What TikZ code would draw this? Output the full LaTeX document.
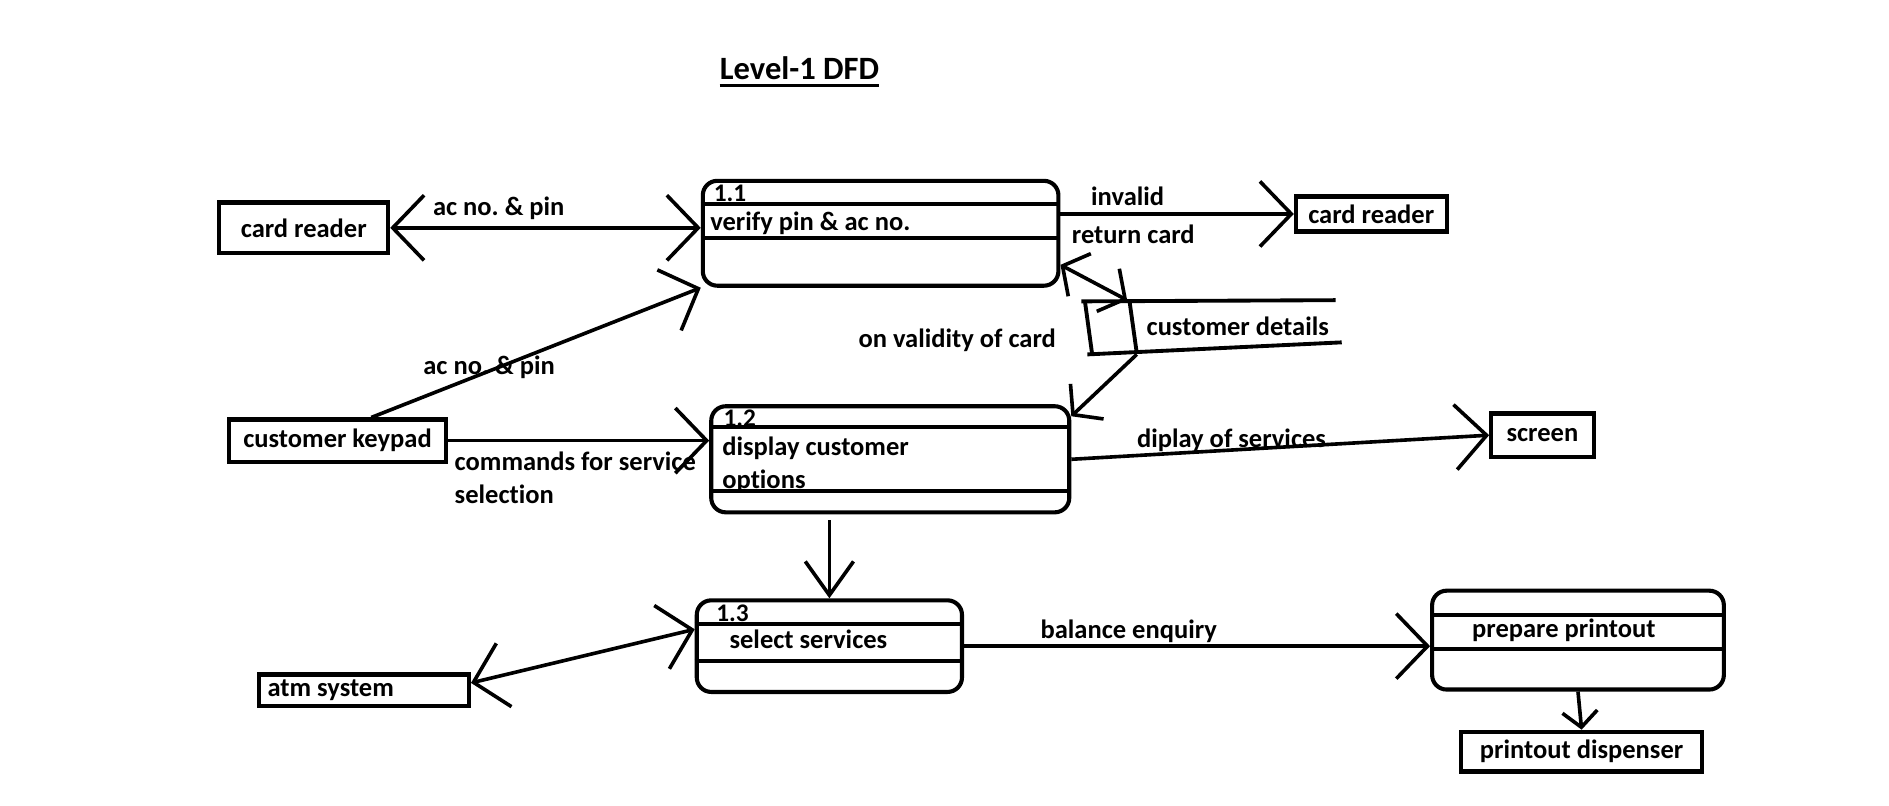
\documentclass[tikz,border=0pt]{standalone}
\usepackage{fontspec}
\setmainfont{Carlito}[Ligatures={NoCommon}]
\usetikzlibrary{arrows.meta,calc}
\begin{document}
\frenchspacing
\begin{tikzpicture}[x=1pt,y=-1pt,
  every node/.style={font=\fontsize{22}{27}\selectfont\bfseries\frenchspacing, inner sep=0pt},
  ext/.style={draw, line width=3.4pt, inner xsep=4pt},
  proc/.style={draw, rounded corners=12pt, line width=3.4pt},
  sep/.style={line width=3.2pt},
  conn/.style={line width=3pt},
  big/.style={conn, >={Straight Barb[length=26pt,width=54pt]}},
  mid/.style={conn, >={Straight Barb[length=28pt,width=40pt]}},
  corner/.style={conn, >={Straight Barb[length=16pt,width=40pt]}},
  small/.style={conn, >={Straight Barb[length=13pt,width=29pt]}},
  lbl/.style={anchor=west},
  num/.style={anchor=west, font=\fontsize{21}{25}\selectfont\bfseries}]
\fill[white] (0,0) rectangle (1567,668.6);
\useasboundingbox (0,0) rectangle (1567,668.6);

% title
\node[anchor=base west, font=\fontsize{27}{32}\selectfont\bfseries] (ttl) at (597,66) {Level-1 DFD};
\draw[line width=2.6pt] ([yshift=-5pt]ttl.base west) -- ([yshift=-5pt]ttl.base east);

% process 1.1
\node[ext, minimum width=140pt, minimum height=42pt] (cr1) at (252,189) {card reader};
\node[proc, minimum width=295pt, minimum height=87pt] (p11) at (730.5,193.5) {};
\draw[sep] ([yshift=-21pt]p11.north west) -- ([yshift=-21pt]p11.north east);
\draw[sep] ([yshift=-49pt]p11.north west) -- ([yshift=-49pt]p11.north east);
\node[num] (t11) at (592,160.5) {1.1};
\node[lbl] (v11) at (589,185) {verify pin \& ac no.};
\node[lbl] (l1) at (359,173) {ac no. \& pin};
\draw[big,<->] (cr1.east) -- (cr1.east -| p11.west);

\node[ext, minimum width=125pt, minimum height=29pt] (cr2) at (1137.5,177.5) {card reader};
\draw[big,->] (p11.east |- cr2.west) -- (cr2.west);
\node[lbl] (l2) at (905,163) {invalid};
\node[lbl] (l3) at (889,194) {return card};

% data store
\draw[sep] (897,250) -- (1108,249);
\draw[sep] (902,294) -- (1113,284);
\draw[sep] (900,250) -- (906,294);
\draw[sep] (937,250) -- (943,293);
\node[lbl] (ds) at (951,271) {customer details};
\coordinate (dsA) at (935,249);
\coordinate (dsB) at (943,294);

% process 1.2
\node[proc, minimum width=297pt, minimum height=88pt] (p12) at (738.5,381) {};
\draw[sep] ([yshift=-19pt]p12.north west) -- ([yshift=-19pt]p12.north east);
\draw[sep] ([yshift=-72pt]p12.north west) -- ([yshift=-72pt]p12.north east);
\node[num] (t12) at (600,347) {1.2};
\node[lbl] (v12a) at (599,372) {display customer};
\node[lbl] (v12b) at (599,399) {options};

\draw[corner,<->] ([yshift=19pt]p11.south east) -- (dsA);
\draw[corner,->] (dsB) -- ([yshift=-10pt]p12.north east);
\node[lbl] (l4) at (712,282) {on validity of card};

% keypad
\node[ext, minimum width=180pt, minimum height=35pt] (kp) at (280,365.5) {customer keypad};
\draw[big,->] ([xshift=28pt]kp.north) -- (p11.south west);
\node[lbl] (l5) at (351,305) {ac no. \& pin};
\draw[big,->] (kp.east) -- (kp.east -| p12.west);
\node[lbl] (l6) at (377,383) {commands for service};
\node[lbl] (l7) at (377,410) {selection};

% screen
\node[ext, minimum width=85pt, minimum height=36pt] (scr) at (1279.5,361) {screen};
\draw[big,->] (p12.east) -- (scr.west);
\node[lbl] (l8) at (943,365) {diplay of services};

% process 1.3
\node[proc, minimum width=220pt, minimum height=76pt] (p13) at (688,536) {};
\draw[sep] ([yshift=-21pt]p13.north west) -- ([yshift=-21pt]p13.north east);
\draw[sep] ([yshift=-52pt]p13.north west) -- ([yshift=-52pt]p13.north east);
\node[num] (t13) at (594,508.5) {1.3};
\node[lbl] (v13) at (605,530) {select services};
\draw[mid,->,shorten <=5pt] (p12.south -| p13.north) -- (p13.north);

% atm system
\node[ext, minimum width=174pt, minimum height=26pt, inner xsep=7pt] (atm) at (302,572.5) {\makebox[160pt][l]{atm system}};
\draw[big,<->] ([yshift=6pt]atm.east) -- ([yshift=14pt]p13.west);

% prepare printout
\node[proc, minimum width=242pt, minimum height=82pt] (pp) at (1309,531) {};
\draw[sep] ([yshift=-22pt]pp.north west) -- ([yshift=-22pt]pp.north east);
\draw[sep] ([yshift=-50pt]pp.north west) -- ([yshift=-50pt]pp.north east);
\node[lbl] (v14) at (1221,523) {prepare printout};
\draw[big,->] (p13.east) -- (p13.east -| pp.west);
\node[lbl] (l9) at (863,524) {balance enquiry};

% printout dispenser
\node[ext, minimum width=200pt, minimum height=33pt] (pd) at (1312,623.5) {printout dispenser};
\draw[small,->] (pp.south) -- (pd.north);
\end{tikzpicture}
\end{document}
